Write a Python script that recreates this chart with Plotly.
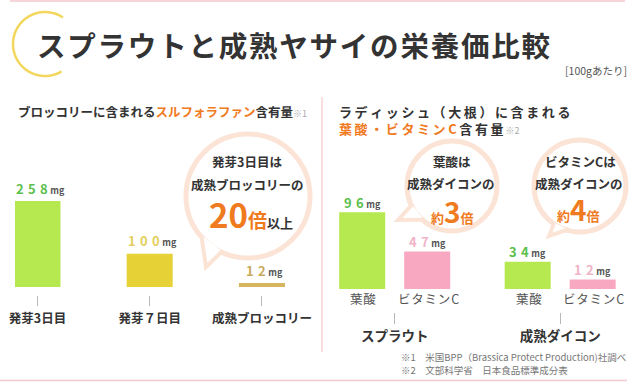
import math
import plotly.graph_objects as go

W, H = 640, 382
F = "Noto Sans CJK JP, Noto Sans, sans-serif"

# ---------------- data ----------------
broc_categories = ["発芽3日目", "発芽７日目", "成熟ブロッコリー"]
broc_values = [258, 100, 12]
radish_groups = ["スプラウト", "成熟ダイコン"]
nutrient_names = ["葉酸", "ビタミンC"]
folate_values = [96, 34]
vitc_values = [47, 12]
unit = "mg"

title_text = "スプラウトと成熟ヤサイの栄養価比較"
per_text = "[100gあたり]"
left_sub = ("ブロッコリーに含まれる", "スルフォラファン", "含有量", "※1")
right_sub1 = "ラディッシュ（大根）に含まれる"
right_sub2 = ("葉酸・ビタミンC", "含有量", "※2")
notes = ["※1　米国BPP（Brassica Protect Production)社調べ",
         "※2　文部科学省　日本食品標準成分表"]

# ---------------- styles ----------------
GREEN, YELLOW, TAN, PINK = "#b6e84f", "#e6d237", "#d5b55d", "#f9a8c1"
GREEN_T, YELLOW_T, TAN_T, PINK_T = "#5cbf4e", "#e4cf5c", "#c9aa5a", "#f0b4c6"
ORANGE = "#f07a1e"
DARK = "#333333"
PEACH = "#fbe4d6"
LINEPINK = "#f3c9cf"
HS = "\u200a"
TS = "\u2009"


def px(x):
    return x / W


def py(y):
    return 1 - y / H


def spaced(s, sep=HS):
    return sep.join(list(s))


def val_label(v, spaced_digits=True):
    d = "\u2004".join(str(v)) if spaced_digits else str(v)
    return f"{d}\u2009<span style='font-size:9px;color:#555'>{unit}</span>"


fig = go.Figure()
fig.add_trace(go.Bar(x=broc_categories, y=broc_values,
                     marker=dict(color=[GREEN, YELLOW, TAN], line_width=0),
                     width=0.41, xaxis="x", yaxis="y", showlegend=False,
                     hoverinfo="skip"))
fig.add_trace(go.Bar(x=radish_groups, y=folate_values, name=nutrient_names[0],
                     marker=dict(color=GREEN, line_width=0), xaxis="x2", yaxis="y2",
                     showlegend=False, hoverinfo="skip"))
fig.add_trace(go.Bar(x=radish_groups, y=vitc_values, name=nutrient_names[1],
                     marker=dict(color=PINK, line_width=0), xaxis="x2", yaxis="y2",
                     showlegend=False, hoverinfo="skip"))

shapes = []
# top / bottom border lines & separator
shapes.append(dict(type="line", xref="paper", yref="paper", x0=px(10), x1=px(625),
                   y0=py(1), y1=py(1), line=dict(color=LINEPINK, width=1.5)))
shapes.append(dict(type="line", xref="paper", yref="paper", x0=px(0), x1=px(627),
                   y0=py(380.5), y1=py(380.5), line=dict(color=LINEPINK, width=1.5)))
shapes.append(dict(type="line", xref="paper", yref="paper", x0=px(322), x1=px(322),
                   y0=py(97), y1=py(352), line=dict(color=LINEPINK, width=1.2)))

# title arc
cx, cy, r = 45, 44, 32
pts = []
for i in range(61):
    a = math.radians(59 + (304 - 59) * i / 60)
    pts.append((px(cx + r * math.cos(a)), py(cy + r * math.sin(a))))
path = "M " + " L ".join(f"{x:.5f},{y:.5f}" for x, y in pts)
shapes.append(dict(type="path", xref="paper", yref="paper", path=path,
                   line=dict(color="#f3d65c", width=2.5)))


def bubble(cx, cy, r, a1, a2, tip):
    out = [dict(type="circle", xref="paper", yref="paper",
                x0=px(cx - r), x1=px(cx + r), y0=py(cy + r), y1=py(cy - r),
                fillcolor="white", line=dict(color=PEACH, width=5))]
    rr = r - 1
    b1 = (cx + rr * math.cos(math.radians(a1)), cy + rr * math.sin(math.radians(a1)))
    b2 = (cx + rr * math.cos(math.radians(a2)), cy + rr * math.sin(math.radians(a2)))
    p = (f"M {px(b1[0]):.5f},{py(b1[1]):.5f} L {px(tip[0]):.5f},{py(tip[1]):.5f} "
         f"L {px(b2[0]):.5f},{py(b2[1]):.5f}")
    out.append(dict(type="path", xref="paper", yref="paper", path=p,
                    fillcolor="white", line=dict(color=PEACH, width=4)))
    return out


shapes += bubble(248, 196, 62, 115, 140, (206, 267))
shapes += bubble(452, 186, 45, 130, 155, (398, 220))
shapes += bubble(580, 186, 46, 105, 125, (549, 236))

ann = []


def text(x, y, t, size=12, color=DARK, weight="normal", xanchor="center", family=F):
    ann.append(dict(x=px(x), y=py(y), xref="paper", yref="paper", text=t,
                    showarrow=False, xanchor=xanchor, yanchor="middle",
                    font=dict(size=size, color=color, family=family, weight=weight)))


text(35, 45, spaced(title_text), size=28.5, color=DARK, weight="bold", xanchor="left")
text(629, 70, per_text, size=10.5, color="#555", xanchor="right")

text(16, 112, f"{left_sub[0]}<span style='color:{ORANGE}'>{left_sub[1]}</span>{left_sub[2]}"
     f"<span style='font-size:9px;color:#aaa;font-weight:normal'>{left_sub[3]}</span>",
     size=12.5, weight="bold", xanchor="left")
ann.append(dict(x=px(337), y=py(119.5), xref="paper", yref="paper", showarrow=False,
                xanchor="left", yanchor="middle", align="left",
                text=(f"{spaced(right_sub1, TS)}<br>"
                      f"<span style='color:{ORANGE}'>{spaced(right_sub2[0], TS)}</span>{TS}"
                      f"{spaced(right_sub2[1], TS)}"
                      f"<span style='font-size:9px;color:#aaa;font-weight:normal'> {right_sub2[2]}</span>"),
                font=dict(size=13, color=DARK, family=F, weight="bold")))

# bubble texts
text(247, 162, "発芽3日目は", size=12.5, weight="bold")
text(247, 184, "成熟ブロッコリーの", size=12.5, weight="bold")
text(251, 214, f"<span style='color:{ORANGE};font-size:33px'>20</span>"
     f"<span style='color:{ORANGE};font-size:19px'>倍</span>以上",
     size=13, weight="bold")
text(452, 162, "葉酸は", size=12.5, weight="bold")
text(451, 183, "成熟ダイコンの", size=12.5, weight="bold")
text(452, 211, f"約<span style='font-size:28px'>3</span>倍", size=13, color=ORANGE, weight="bold")
text(580, 162, "ビタミンCは", size=12.5, weight="bold")
text(579, 183, "成熟ダイコンの", size=12.5, weight="bold")
text(578, 209, f"約<span style='font-size:28px'>4</span>倍", size=13, color=ORANGE, weight="bold")

# footnotes
text(399, 357, notes[0], size=9.5, color="#777", xanchor="left")
text(399, 370, notes[1], size=9.5, color="#777", xanchor="left")

# value labels (data-anchored)
for cat, v, c in zip(broc_categories, broc_values, [GREEN_T, YELLOW_T, TAN_T]):
    ann.append(dict(x=cat, y=v, xref="x", yref="y", text=val_label(v), showarrow=False,
                    yanchor="middle", yshift=13, xshift=3,
                    font=dict(size=13, color=c, family=F, weight="bold")))

for vals, c, shift, nm in [(folate_values, GREEN_T, -32.5, nutrient_names[0]),
                           (vitc_values, PINK_T, 32.5, nutrient_names[1])]:
    for g, v in zip(radish_groups, vals):
        ann.append(dict(x=g, y=v, xref="x2", yref="y2", text=val_label(v),
                        showarrow=False, yanchor="middle", yshift=10, xshift=shift,
                        font=dict(size=13, color=c, family=F, weight="bold")))
        ann.append(dict(x=g, y=0, xref="x2", yref="y2", text=spaced(nm),
                        showarrow=False, yanchor="middle", yshift=-9, xshift=shift + 1,
                        font=dict(size=12.5, color="#555", family=F)))

fig.update_layout(
    width=W, height=H, margin=dict(l=0, r=0, t=0, b=0), autosize=False,
    paper_bgcolor="white", plot_bgcolor="rgba(0,0,0,0)",
    barmode="group", bargap=0.2145, bargroupgap=0.292,
    font=dict(family=F),
    xaxis=dict(domain=[px(15), px(290)], range=[-0.2, 2.25], type="category",
               anchor="free", position=py(295), ticks="outside", ticklen=10,
               tickcolor="#b8b8b8", tickwidth=1, showline=False, showgrid=False,
               zeroline=False, ticklabelstandoff=2, automargin=False,
               tickfont=dict(size=12.5, color=DARK, family=F, weight="bold")),
    yaxis=dict(domain=[py(287), py(187)], range=[0, 300], visible=False),
    xaxis2=dict(domain=[px(330), px(630)], range=[-0.391, 1.422], type="category",
                anchor="free", position=py(312), ticks="outside", ticklen=11,
                tickcolor="#b8b8b8", tickwidth=1, showline=False, showgrid=False,
                zeroline=False, ticklabelstandoff=1, automargin=False,
                tickfont=dict(size=13.5, color=DARK, family=F, weight="bold")),
    yaxis2=dict(domain=[py(289), py(189)], range=[0, 125], visible=False, anchor="x2"),
    shapes=shapes, annotations=ann,
)

fig.write_html("out.html", config={"responsive": False, "displayModeBar": False},
               post_script="document.body.style.margin='0';document.body.style.overflow='hidden';")
